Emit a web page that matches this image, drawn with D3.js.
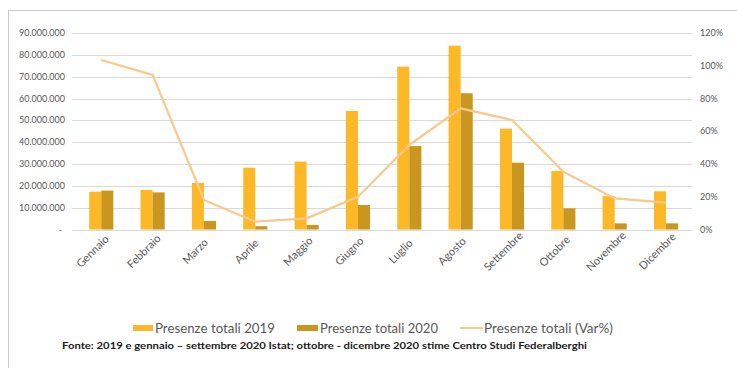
<!DOCTYPE html>
<html><head><meta charset="utf-8">
<script src="https://cdn.jsdelivr.net/npm/d3@7"></script>
<style>
body{margin:0;background:#fff;}
svg{display:block;font-family:Lato,"Open Sans",sans-serif;}
</style></head>
<body>
<svg id="c" width="737" height="368"></svg>
<script>
const months = ["Gennaio","Febbraio","Marzo","Aprile","Maggio","Giugno","Luglio","Agosto","Settembre","Ottobre","Novembre","Dicembre"];
const pres2019 = [17300000,18100000,21300000,28300000,31100000,54300000,74600000,84200000,46200000,26800000,15300000,17500000];
const pres2020 = [17800000,17000000,3900000,1500000,2100000,11200000,38200000,62400000,30600000,9700000,2800000,2800000];
const varPct = [103.5,94.4,18,4.8,6.8,20,51.6,74,66.9,35.3,19,16.4];
const leftTicks = [0,10000000,20000000,30000000,40000000,50000000,60000000,70000000,80000000,90000000];
const rightTicks = [0,20,40,60,80,100,120];
const seriesNames = ["Presenze totali 2019","Presenze totali 2020","Presenze totali (Var%)"];
const colors = ["#FDB827","#C9961F","#F8C98E"];
const source = "Fonte: 2019  e gennaio \u2013 settembre 2020 Istat; ottobre - dicembre 2020 stime Centro Studi Federalberghi";

const svg = d3.select("#c");
const X0 = 75.6, X1 = 691.7, Y0 = 229.5, Y1 = 33;

// frame
svg.append("rect").attr("x",8.5).attr("y",10.5).attr("width",740).attr("height",400)
  .attr("fill","none").attr("stroke","#c9c9c9").attr("stroke-width",1);

const x = d3.scaleBand().domain(months).range([X0,X1]).paddingInner(0.53).paddingOuter(0.265);
const xs = d3.scaleBand().domain(["a","b"]).range([0,x.bandwidth()]);
const yL = d3.scaleLinear().domain([0,90000000]).range([Y0,Y1]);
const yR = d3.scaleLinear().domain([0,120]).range([Y0,Y1]);

// gridlines
svg.append("g").selectAll("line").data(leftTicks).join("line")
  .attr("x1",72).attr("x2",692).attr("y1",d=>Math.round(yL(d))+0.5).attr("y2",d=>Math.round(yL(d))+0.5)
  .attr("stroke","#d9d9d9").attr("stroke-width",1);

// left axis labels
const fmt = d => d===0 ? "-" : d3.format(",")(d).replace(/,/g,".");
svg.append("g").selectAll("text").data(leftTicks).join("text")
  .attr("x",d=>d===0?62:65).attr("y",d=>yL(d)).attr("dy","0.35em")
  .attr("text-anchor","end").attr("font-size",9).attr("fill","#595959").text(fmt);

// right axis labels
svg.append("g").selectAll("text").data(rightTicks).join("text")
  .attr("x",700).attr("y",d=>yR(d)).attr("dy","0.35em")
  .attr("text-anchor","start").attr("font-size",9).attr("fill","#595959").text(d=>d+"%");

// bars
const g = svg.append("g");
g.selectAll("rect.a").data(months).join("rect").attr("class","a")
  .attr("x",(d)=>x(d)+xs("a")).attr("width",xs.bandwidth())
  .attr("y",(d,i)=>yL(pres2019[i])).attr("height",(d,i)=>Y0-yL(pres2019[i]))
  .attr("fill",colors[0]);
g.selectAll("rect.b").data(months).join("rect").attr("class","b")
  .attr("x",(d)=>x(d)+xs("b")).attr("width",xs.bandwidth())
  .attr("y",(d,i)=>yL(pres2020[i])).attr("height",(d,i)=>Y0-yL(pres2020[i]))
  .attr("fill",colors[1]);

// line
const line = d3.line().x((d,i)=>x(months[i])+x.bandwidth()/2).y(d=>yR(d));
svg.append("path").datum(varPct).attr("d",line).attr("fill","none")
  .attr("stroke",colors[2]).attr("stroke-width",2.2).attr("stroke-linejoin","round");

// x labels (rotation is not rendered in this environment; placed horizontally)
svg.append("g").selectAll("text").data(months).join("text")
  .attr("x",d=>x(d)+x.bandwidth()/2-6).attr("y",254)
  .attr("text-anchor","middle").attr("font-size",11).attr("fill","#595959")
  .attr("transform",d=>"rotate(-45," + (x(d)+x.bandwidth()/2-6) + ",254)")
  .text(d=>d);

// legend
const leg = svg.append("g").attr("font-size",14).attr("fill","#595959");
const legX = [133,297,460];
leg.append("rect").attr("x",legX[0]).attr("y",325).attr("width",20).attr("height",6).attr("fill",colors[0]);
leg.append("rect").attr("x",legX[1]).attr("y",325).attr("width",21).attr("height",6).attr("fill",colors[1]);
leg.append("line").attr("x1",legX[2]).attr("x2",legX[2]+23).attr("y1",328).attr("y2",328).attr("stroke",colors[2]).attr("stroke-width",2);
leg.append("text").attr("x",155).attr("y",333).attr("textLength",120).attr("lengthAdjust","spacingAndGlyphs").text(seriesNames[0]);
leg.append("text").attr("x",320).attr("y",333).attr("textLength",118).attr("lengthAdjust","spacingAndGlyphs").text(seriesNames[1]);
leg.append("text").attr("x",484).attr("y",333).attr("textLength",129).attr("lengthAdjust","spacingAndGlyphs").text(seriesNames[2]);

// source
svg.append("text").attr("x",62).attr("y",349).attr("font-size",10).attr("font-weight","bold").attr("fill","#1a1a1a")
  .attr("textLength",525).attr("lengthAdjust","spacingAndGlyphs").text(source);
</script>
</body></html>
